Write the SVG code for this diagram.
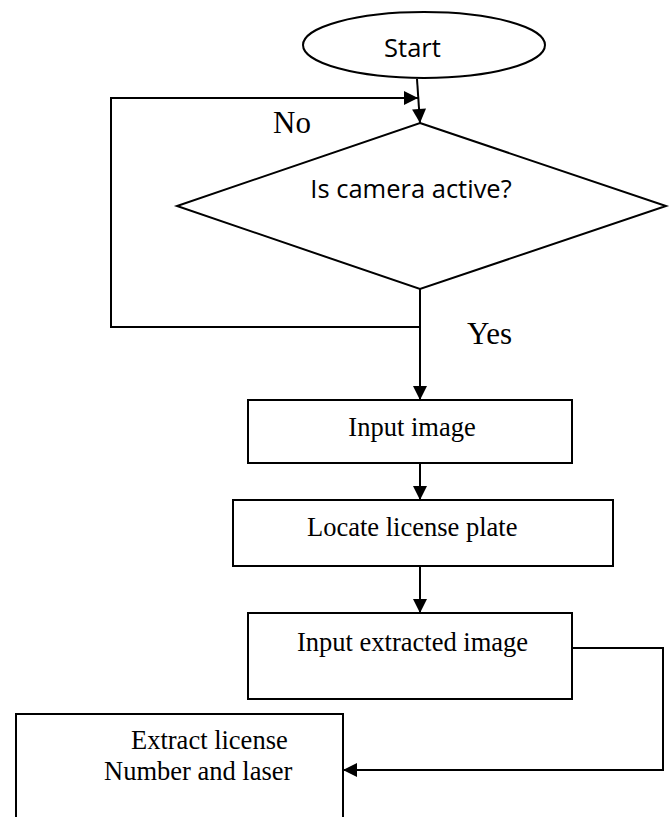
<svg xmlns="http://www.w3.org/2000/svg" width="671" height="817" viewBox="0 0 671 817">
  <defs>
    <marker id="arr" markerUnits="userSpaceOnUse" markerWidth="16" markerHeight="16" viewBox="0 0 16 16" refX="15" refY="8" orient="auto">
      <path d="M1,1 L15,8 L1,15 Z" fill="#000"/>
    </marker>
    <style>
      .shape { fill: #fff; stroke: #000; stroke-width: 2; }
      .conn { fill: none; stroke: #000; stroke-width: 2; }
      .sans { font-family: "Open Sans", "DejaVu Sans", sans-serif; font-size: 25.5px; fill: #000; }
      .serif { font-family: "Liberation Serif", "Times New Roman", serif; font-size: 26.5px; fill: #000; }
      .lbl { font-family: "Liberation Serif", "Times New Roman", serif; font-size: 31px; fill: #000; }
    </style>
  </defs>
  <rect width="671" height="817" fill="#fff"/>

  <g id="start">
    <ellipse class="shape" cx="424" cy="45" rx="121" ry="33"/>
    <text class="sans" x="412.5" y="57" text-anchor="middle">Start</text>
  </g>

  <g id="decision">
    <polygon class="shape" points="420,123 666,206 420,289 177,206"/>
    <text class="sans" x="411" y="198" text-anchor="middle">Is camera active?</text>
  </g>

  <g id="input-image">
    <rect class="shape" x="248" y="400" width="324" height="63"/>
    <text class="serif" x="412" y="436" text-anchor="middle">Input image</text>
  </g>

  <g id="locate-plate">
    <rect class="shape" x="233" y="500" width="380" height="66"/>
    <text class="serif" x="307" y="536">Locate license plate</text>
  </g>

  <g id="input-extracted">
    <rect class="shape" x="248" y="613" width="324" height="86"/>
    <text class="serif" x="297" y="651">Input extracted image</text>
  </g>

  <g id="extract-number">
    <rect class="shape" x="16" y="714" width="327" height="130"/>
    <text class="serif" x="131" y="749">Extract license</text>
    <text class="serif" x="104" y="780">Number and laser</text>
  </g>

  <g id="connectors">
    <line class="conn" x1="417" y1="79" x2="420" y2="123" marker-end="url(#arr)"/>
    <path class="conn" d="M420,327 H111 V98 H418" marker-end="url(#arr)"/>
    <line class="conn" x1="420" y1="289" x2="420" y2="400" marker-end="url(#arr)"/>
    <line class="conn" x1="420" y1="463" x2="420" y2="500" marker-end="url(#arr)"/>
    <line class="conn" x1="420" y1="566" x2="420" y2="613" marker-end="url(#arr)"/>
    <path class="conn" d="M572,648 H663 V770 H343" marker-end="url(#arr)"/>
    <text class="lbl" x="273" y="133">No</text>
    <text class="lbl" x="467" y="344">Yes</text>
  </g>
</svg>
